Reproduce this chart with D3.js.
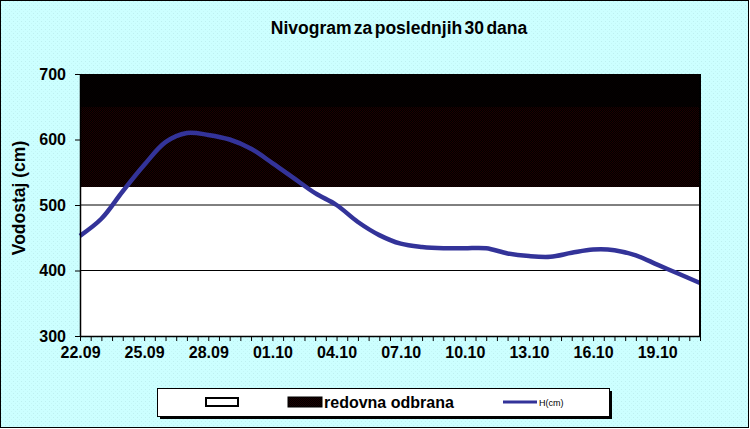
<!DOCTYPE html>
<html>
<head>
<meta charset="utf-8">
<script src="https://cdnjs.cloudflare.com/ajax/libs/d3/7.8.5/d3.min.js"></script>
<style>
  body { margin: 0; background: #fff; }
  svg { display: block; font-family: "Liberation Sans", Arial, sans-serif; }
</style>
</head>
<body>
<svg id="chart" width="750" height="429"></svg>
<script>
// one reading per day, 22.09 .. 21.10
var levels = [453, 479, 521, 561, 596, 610, 607, 600, 586, 564,
              541, 518, 500, 474, 454, 441, 436, 434, 434, 434,
              426, 422, 421, 427, 432, 431, 423, 409, 395, 381];
var tickDays = [0, 3, 6, 9, 12, 15, 18, 21, 24, 27];
var tickLabels = ["22.09", "25.09", "28.09", "01.10", "04.10", "07.10", "10.10", "13.10", "16.10", "19.10"];
var yTicks = [300, 400, 500, 600, 700];
var redovnaFrom = 528;   // redovna odbrana
var upperFrom = 650;     // upper (unlabelled) zone
var yMax = 700;

var svg = d3.select("#chart"),
    margin = {top: 74, right: 50, bottom: 93, left: 80},
    width = +svg.attr("width") - margin.left - margin.right,
    height = +svg.attr("height") - margin.top - margin.bottom;

var defs = svg.append("defs");
var bg = defs.append("pattern").attr("id", "bgdots")
    .attr("width", 4).attr("height", 4).attr("patternUnits", "userSpaceOnUse");
bg.append("rect").attr("width", 4).attr("height", 4).attr("fill", "#ccffff");
bg.append("rect").attr("x", 1).attr("y", 1).attr("width", 1).attr("height", 1).attr("fill", "#bdf0f0");
bg.append("rect").attr("x", 3).attr("y", 3).attr("width", 1).attr("height", 1).attr("fill", "#c4f6f6");

function hatch(id, c) {
  var p = defs.append("pattern").attr("id", id)
      .attr("width", 2).attr("height", 2).attr("patternUnits", "userSpaceOnUse");
  p.append("rect").attr("width", 2).attr("height", 2).attr("fill", "#000");
  p.append("rect").attr("width", 1).attr("height", 1).attr("fill", c);
  p.append("rect").attr("x", 1).attr("y", 1).attr("width", 1).attr("height", 1).attr("fill", c);
}
hatch("redHatch", "#1e0000");
hatch("topHatch", "#060000");

svg.append("rect")
    .attr("x", 0.5).attr("y", 0.5).attr("width", 748).attr("height", 427)
    .attr("fill", "url(#bgdots)").attr("stroke", "#000").attr("stroke-width", 1);

svg.append("text")
    .attr("x", 399).attr("y", 34)
    .attr("text-anchor", "middle")
    .attr("font-size", 17.5).attr("font-weight", "bold")
    .attr("word-spacing", -2.5)
    .text("Nivogram za poslednjih 30 dana");

var x = d3.scaleLinear().domain([0, levels.length - 1]).range([0, width]);
var y = d3.scaleLinear().domain([300, yMax]).range([height, 0]);

var g = svg.append("g").attr("transform", "translate(" + margin.left + "," + margin.top + ")");

g.append("rect").attr("width", width).attr("height", height).attr("fill", "#fff");

g.append("g")
  .selectAll("line")
  .data(yTicks.slice(1, -1))
  .enter().append("line")
    .attr("x1", 0).attr("x2", width)
    .attr("y1", function(d) { return y(d); })
    .attr("y2", function(d) { return y(d); })
    .attr("stroke", "#000").attr("stroke-width", 1);

var zones = [
  {from: redovnaFrom, to: upperFrom, fill: "url(#redHatch)"},
  {from: upperFrom, to: yMax, fill: "url(#topHatch)"}
];
g.selectAll(".zone")
  .data(zones)
  .enter().append("rect")
    .attr("class", "zone")
    .attr("x", 0).attr("width", width)
    .attr("y", function(d) { return Math.round(y(d.to)); })
    .attr("height", function(d) { return Math.round(y(d.from)) - Math.round(y(d.to)); })
    .attr("shape-rendering", "crispEdges")
    .attr("fill", function(d) { return d.fill; });

var line = d3.line()
    .x(function(d, i) { return x(i); })
    .y(function(d) { return y(d); })
    .curve(d3.curveCatmullRom.alpha(0.5));

g.append("path")
    .datum(levels)
    .attr("fill", "none")
    .attr("stroke", "#333399")
    .attr("stroke-width", 4.5)
    .attr("stroke-linejoin", "round")
    .attr("d", line);

// plot frame right edge
g.append("line")
    .attr("x1", width).attr("x2", width).attr("y1", 0).attr("y2", height)
    .attr("stroke", "#000").attr("stroke-width", 2);

var xAxis = g.append("g")
    .attr("transform", "translate(0," + height + ")")
    .call(d3.axisBottom(x)
      .tickValues(d3.range(0, levels.length - 0.5, 0.5))
      .tickSize(5).tickSizeOuter(0).tickPadding(6)
      .tickFormat(function(d) {
        var k = tickDays.indexOf(d);
        return k < 0 ? "" : tickLabels[k];
      }));
xAxis.selectAll("text").attr("font-size", 16).attr("font-weight", "bold").attr("fill", "#000")
    .attr("font-family", "Liberation Sans, Arial, sans-serif");
xAxis.select(".domain").attr("stroke-width", 1.5);

var yAxis = g.append("g")
    .call(d3.axisLeft(y).tickValues(yTicks).tickSize(5).tickSizeOuter(0).tickPadding(9));
yAxis.selectAll("text").attr("font-size", 16).attr("font-weight", "bold").attr("fill", "#000")
    .attr("font-family", "Liberation Sans, Arial, sans-serif");
yAxis.select(".domain").attr("stroke-width", 1.5);

svg.append("text")
    .attr("transform", "translate(25,198) rotate(-90)")
    .attr("text-anchor", "middle")
    .attr("font-size", 17.5).attr("font-weight", "bold")
    .text("Vodostaj (cm)");

// legend
var legend = svg.append("g").attr("transform", "translate(157,388)");
legend.append("rect").attr("x", 3).attr("y", 3).attr("width", 452).attr("height", 28).attr("fill", "#000");
legend.append("rect").attr("x", 0.5).attr("y", 0.5).attr("width", 452).attr("height", 28)
    .attr("fill", "#fff").attr("stroke", "#000").attr("stroke-width", 1);
legend.append("rect").attr("x", 49).attr("y", 10).attr("width", 32).attr("height", 8)
    .attr("fill", "#fff").attr("stroke", "#000").attr("stroke-width", 2);
legend.append("rect").attr("x", 131).attr("y", 9).attr("width", 34).attr("height", 10)
    .attr("fill", "url(#redHatch)").attr("stroke", "#000").attr("stroke-width", 1);
legend.append("text").attr("x", 167).attr("y", 20)
    .attr("font-size", 16).attr("font-weight", "bold")
    .text("redovna odbrana");
legend.append("line").attr("x1", 346).attr("x2", 380).attr("y1", 14).attr("y2", 14)
    .attr("stroke", "#333399").attr("stroke-width", 3);
legend.append("text").attr("x", 382).attr("y", 18)
    .attr("font-size", 9)
    .text("H(cm)");
</script>
</body>
</html>
